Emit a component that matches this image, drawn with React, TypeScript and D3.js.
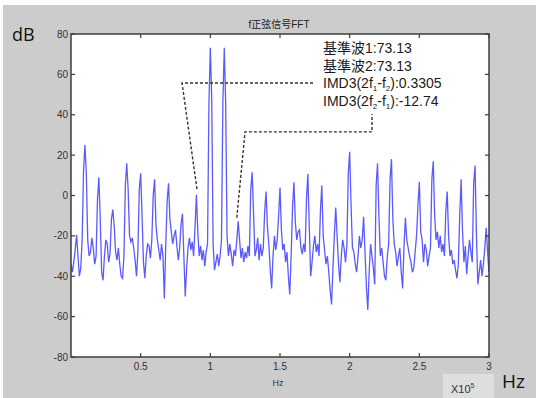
import React from "react";
import * as d3 from "d3";

// Spectrum magnitude (dB), one value per 1 kHz bin from 0 to 300 kHz
const dbValues: number[] = [
  -34, -38, -33, -27, -19.5, -30, -40, -36, -22, 12,
  25, 11, -22, -30, -28, -21, -26, -34, -30, -2,
  9, -12, -38, -42, -30, -22, -24, -33, -29, -12,
  -7, -15, -28, -32, -26, -34, -40, -41, -30, 5,
  16, 3, -20, -23, -21, -26, -32, -40, -28, 3,
  11, -10, -33, -41, -30, -24, -25, -31, -22, 0,
  8, -15, -22, -27, -32, -24, -30, -51, -25, -3,
  6, -12, -18, -24, -20, -17, -25, -32, -26, -14,
  -9, -30, -50, -36, -26, -21, -27, -23, -30, -16,
  0.33, -18, -30, -25, -32, -27, -35, -28, -24, 46,
  73.13, 48, -24, -37, -33, -29, -35, -30, -22, 46,
  73.13, 46, -20, -30, -24, -29, -35, -27, -30, -22,
  -12.74, -22, -31, -26, -33, -28, -31, -25, -30, 3,
  11.5, -8, -30, -27, -21, -32, -24, -30, -26, -8,
  2, -16, -24, -37, -46, -30, -20, -27, -22, -10,
  4, -17, -27, -24, -33, -28, -40, -49, -30, -6,
  6.5, -13, -22, -18, -17, -26, -29, -24, -28, -2,
  10.6, -15, -40, -33, -25, -20, -28, -24, -30, -8,
  5, -20, -27, -34, -30, -38, -47, -54, -36, -20,
  -6, -20, -34, -43, -30, -22, -26, -33, -25, 11,
  21.7, -5, -26, -28, -34, -38, -30, -20, -26, -22,
  -10.5, -28, -45, -56.7, -38, -24, -30, -36, -44, 5,
  16, -10, -30, -26, -33, -40, -42, -30, -24, 8,
  18, -12, -24, -28, -35, -30, -26, -38, -46, -25,
  -11, -22, -26, -30, -33, -38, -36, -28, -20, -5,
  6.8, -18, -22, -33, -24, -27, -35, -30, -26, 8,
  17, -10, -22, -18, -26, -20, -28, -24, -30, -8,
  2, -20, -30, -27, -34, -32, -37, -41, -34, -10,
  8, -18, -33, -25, -39, -30, -22, -28, -33, 6,
  14.8, -20, -44, -38, -32, -40, -34, -26, -16, -28,
  -38,
];
const binStepHz = 1000;

const xTicks: number[] = [0.5, 1, 1.5, 2, 2.5, 3]; // x 10^5 Hz
const yTicks: number[] = [-80, -60, -40, -20, 0, 20, 40, 60, 80];

const titleText = "f正弦信号FFT";
const annotationLines: string[][] = [
  ["基準波1:73.13"],
  ["基準波2:73.13"],
  ["IMD3(2f", "1", "-f", "2", "):0.3305"],
  ["IMD3(2f", "2", "-f", "1", "):-12.74"],
];

// Annotation leader lines, in data units (x in 10^5 Hz, y in dB)
const leaderA: [number, number][] = [
  [1.737, 55.7],
  [0.797, 55.7],
  [0.905, 2.7],
];
const leaderB: [number, number][] = [
  [1.19, -11],
  [1.249, 31.5],
  [2.16, 31.5],
  [2.16, 40.4],
];

export default function App() {
  const W = 536;
  const H = 398;
  const left = 71;
  const right = 489;
  const top = 34;
  const bottom = 357;

  const x = d3.scaleLinear().domain([0, 3]).range([left, right]);
  const y = d3.scaleLinear().domain([-80, 80]).range([bottom, top]);

  const pts: [number, number][] = dbValues.map((v, i) => [
    (i * binStepHz) / 1e5,
    v,
  ]);
  const line = d3
    .line<[number, number]>()
    .x((d) => x(d[0]))
    .y((d) => y(d[1]));

  const leader = d3
    .line<[number, number]>()
    .x((d) => x(d[0]))
    .y((d) => y(d[1]));

  const axisColor = "#3c3c3c";
  const tickLen = 4;
  const textFont = "'Liberation Sans', Arial, 'Noto Sans CJK JP', sans-serif";

  return (
    <svg
      width={W}
      height={H}
      style={{ position: "absolute", left: 0, top: 0, display: "block" }}
    >
      <rect x={0} y={0} width={W} height={H} fill="#ffffff" />
      <rect x={3} y={5} width={W - 3} height={H - 5} fill="#cccccc" />
      <rect x={443} y={374} width={51} height={24} fill="#dedede" />

      {/* plot area */}
      <rect
        x={left}
        y={top}
        width={right - left}
        height={bottom - top}
        fill="#ffffff"
      />

      <clipPath id="plotclip">
        <rect x={left} y={top} width={right - left} height={bottom - top} />
      </clipPath>

      <path
        d={line(pts) || ""}
        fill="none"
        stroke="#1a1aff"
        strokeOpacity={0.72}
        strokeWidth={1.3}
        strokeLinejoin="miter"
        clipPath="url(#plotclip)"
      />

      {/* leader lines */}
      <path
        d={leader(leaderA) || ""}
        fill="none"
        stroke="#333"
        strokeWidth={1.4}
        strokeDasharray="3,2"
      />
      <path
        d={leader(leaderB) || ""}
        fill="none"
        stroke="#333"
        strokeWidth={1.4}
        strokeDasharray="3,2"
      />

      {/* axes box */}
      <rect
        x={left}
        y={top}
        width={right - left}
        height={bottom - top}
        fill="none"
        stroke={axisColor}
        strokeWidth={1.5}
      />

      {/* y ticks */}
      {yTicks.map((t) => (
        <g key={"y" + t}>
          <line
            x1={left}
            x2={left + tickLen}
            y1={y(t)}
            y2={y(t)}
            stroke={axisColor}
            strokeWidth={1.2}
          />
          <line
            x1={right}
            x2={right - tickLen}
            y1={y(t)}
            y2={y(t)}
            stroke={axisColor}
            strokeWidth={1.2}
          />
          <text
            x={left - 3}
            y={y(t)}
            dy="0.35em"
            textAnchor="end"
            fontSize={10}
            fill="#333"
            fontFamily={textFont}
          >
            {t}
          </text>
        </g>
      ))}

      {/* x ticks */}
      {xTicks.map((t) => (
        <g key={"x" + t}>
          <line
            x1={x(t)}
            x2={x(t)}
            y1={bottom}
            y2={bottom - tickLen}
            stroke={axisColor}
            strokeWidth={1.2}
          />
          <line
            x1={x(t)}
            x2={x(t)}
            y1={top}
            y2={top + tickLen}
            stroke={axisColor}
            strokeWidth={1.2}
          />
          <text
            x={x(t)}
            y={369.5}
            textAnchor="middle"
            fontSize={10}
            fill="#333"
            fontFamily={textFont}
          >
            {t}
          </text>
        </g>
      ))}

      {/* title */}
      <text
        x={(left + right) / 2 - 1}
        y={28}
        textAnchor="middle"
        fontSize={10}
        fill="#222"
        fontFamily="'Liberation Sans', Arial, 'Noto Sans CJK SC', sans-serif"
      >
        {titleText}
      </text>

      {/* x label */}
      <text
        x={278}
        y={386}
        textAnchor="middle"
        fontSize={9}
        fill="#333"
        fontFamily={textFont}
      >
        Hz
      </text>

      {/* annotations */}
      {annotationLines.map((parts, i) => (
        <text
          key={"a" + i}
          x={323}
          y={53 + i * 17.6}
          fontSize={14}
          fill="#1a1a1a"
          fontFamily={textFont}
        >
          {parts.length === 1
            ? parts[0]
            : parts.map((p, j) =>
                j % 2 === 1 ? (
                  <tspan key={j} fontSize={8} dy={3}>
                    {p}
                  </tspan>
                ) : (
                  <tspan key={j} dy={j === 0 ? 0 : -3}>
                    {p}
                  </tspan>
                )
              )}
        </text>
      ))}

      {/* big unit labels */}
      <text
        x={12}
        y={41}
        fontSize={18}
        fill="#111"
        fontFamily="'Open Sans', 'Liberation Sans', sans-serif"
      >
        dB
      </text>
      <text
        x={502}
        y={388}
        fontSize={19}
        fill="#111"
        fontFamily="'Open Sans', 'Liberation Sans', sans-serif"
      >
        Hz
      </text>
      <text
        x={451}
        y={392.5}
        fontSize={11}
        fill="#333"
        fontFamily={textFont}
      >
        X10
        <tspan fontSize={7} dy={-5}>
          5
        </tspan>
      </text>
    </svg>
  );
}
